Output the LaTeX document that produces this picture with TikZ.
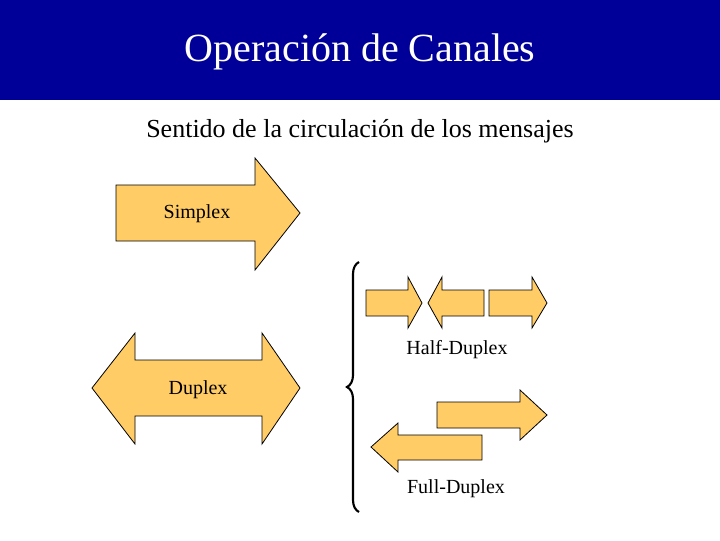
\documentclass[tikz,border=0pt]{standalone}
\usepackage{fontspec}
\setmainfont{Liberation Serif}
\usetikzlibrary{decorations.pathreplacing}
\definecolor{titleblue}{RGB}{0,0,153}
\definecolor{arrfill}{RGB}{255,204,102}
\begin{document}
\begin{tikzpicture}[x=0.75pt,y=-0.75pt,
  arr/.style={fill=arrfill,draw=black,line width=0.6pt,line join=miter},
  lbl/.style={font=\fontsize{15}{17}\selectfont,inner sep=0pt}]
\useasboundingbox (0,0) rectangle (720,540);
\fill[titleblue] (0,0) rectangle (720,100);
\node[text=white,font=\fontsize{30}{34}\selectfont,inner sep=0pt] (title) at (360,52) {Operación de Canales};
\node[font=\fontsize{19.5}{22}\selectfont,inner sep=0pt] (sub) at (360,131) {Sentido de la circulación de los mensajes};
% Simplex
\draw[arr] (116,185)--(255,185)--(255,158)--(300,213)--(255,270)--(255,241)--(116,241)--cycle;
\node[lbl] (simplex) at (197,214) {Simplex};
% Duplex
\draw[arr] (92,388)--(135,333)--(135,360)--(262,360)--(262,333)--(300,388)--(262,444)--(262,416)--(135,416)--(135,444)--cycle;
\node[lbl] (duplex) at (198,390) {Duplex};
% brace
\draw[line width=1.6pt,decorate,decoration={brace,amplitude=9pt}] (359,512)--(359,262);
% Half duplex
\draw[arr] (366,290)--(408,290)--(408,277)--(422,303)--(408,328)--(408,316)--(366,316)--cycle;
\draw[arr] (428,303)--(442,277)--(442,290)--(484,290)--(484,316)--(442,316)--(442,328)--cycle;
\draw[arr] (489,290)--(532,290)--(532,277)--(547,303)--(532,328)--(532,316)--(489,316)--cycle;
\node[lbl] (half) at (457,350) {Half-Duplex};
% Full duplex
\draw[arr] (437,402)--(520,402)--(520,390)--(547,415)--(520,440)--(520,428)--(437,428)--cycle;
\draw[arr] (371,447)--(398,423)--(398,435)--(482,435)--(482,460)--(398,460)--(398,472)--cycle;
\node[lbl] (full) at (456,489) {Full-Duplex};
\end{tikzpicture}
\end{document}
